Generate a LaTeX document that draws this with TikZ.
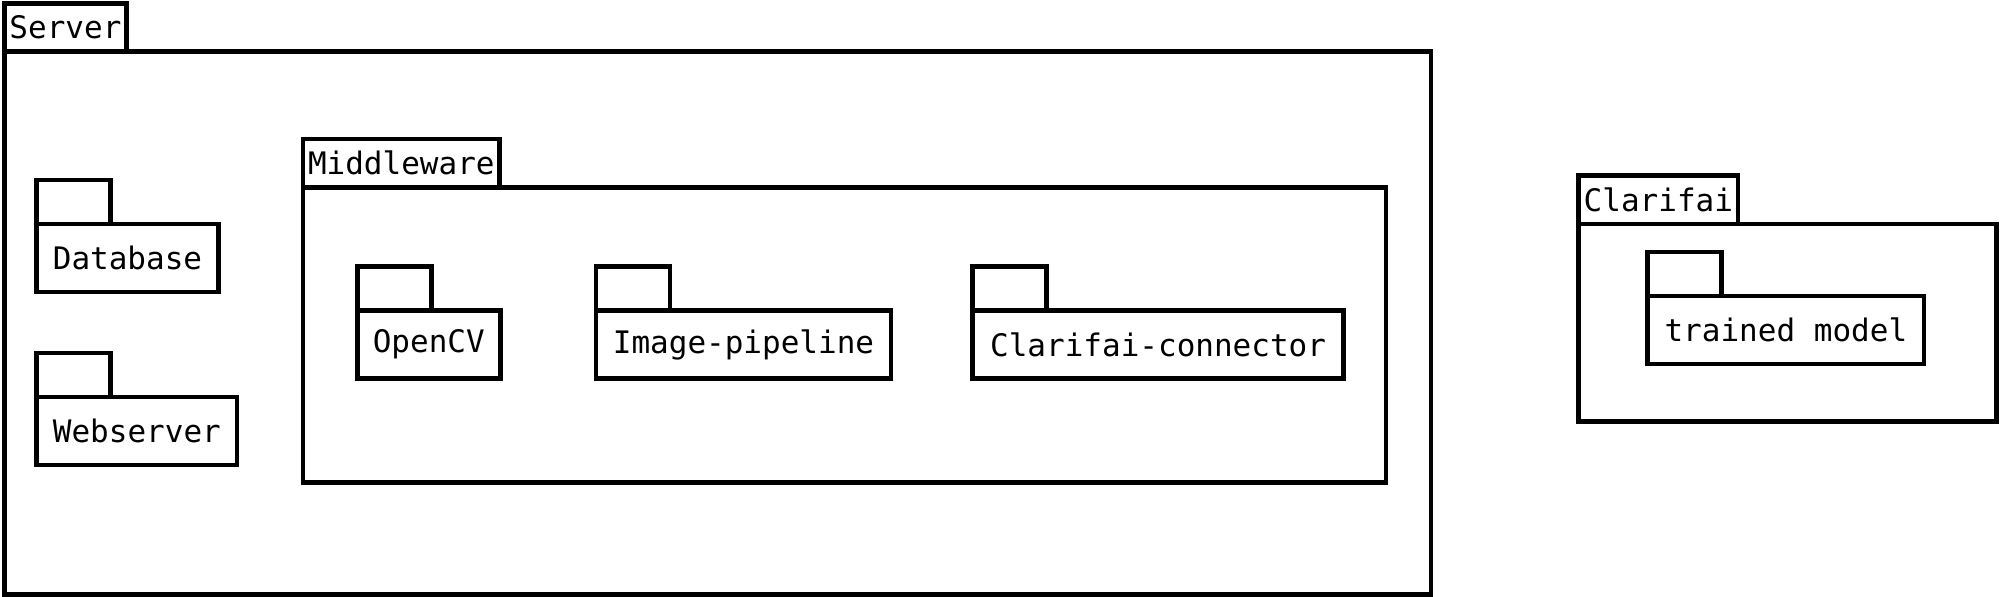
\documentclass[tikz,border=0pt]{standalone}
\usepackage{fontspec}
\setmonofont{DejaVu Sans Mono}

\begin{document}
\begin{tikzpicture}[
        x=0.5pt, y=-0.5pt,
        every node/.style={draw, line width=2.25pt, outer sep=0pt, inner sep=0pt,
            font=\ttfamily\fontsize{15.5}{18}\selectfont},
        pkg/.style={anchor=north west, minimum height=34pt, minimum width=#1},
        pkgtab/.style={anchor=south west, minimum width=37pt, minimum height=22pt},
        bigpkg/.style={anchor=north west},
        bigtab/.style={anchor=south west, inner xsep=2.5pt, minimum height=24.2pt},
    ]
    \useasboundingbox (0,0) rectangle (2001,597);

    % Server
    \node[bigpkg, minimum width=713.25pt, minimum height=271.4pt] (server) at (4.5,51.7) {};
    \node[bigtab] (servertab) at (server.north west) {Server};

    \node[pkg=90.8pt] (db) at (36.7,224) {Database};
    \node[pkgtab] (dbtab) at (db.north west) {};
    \node[pkg=100.2pt] (web) at (36.7,397) {Webserver};
    \node[pkgtab] (webtab) at (web.north west) {};

    % Middleware
    \node[bigpkg, minimum width=541.5pt, minimum height=147.5pt] (mw) at (303,187.5) {};
    \node[bigtab] (mwtab) at (mw.north west) {Middleware};

    \node[pkg=71.5pt] (opencv) at (357.3,310.5) {OpenCV};
    \node[pkgtab] (opencvtab) at (opencv.north west) {};
    \node[pkg=147.5pt] (pipe) at (596,310.5) {Image-pipeline};
    \node[pkgtab] (pipetab) at (pipe.north west) {};
    \node[pkg=185.6pt] (conn) at (972.5,310.5) {Clarifai-connector};
    \node[pkgtab] (conntab) at (conn.north west) {};

    % Clarifai
    \node[bigpkg, minimum width=208.9pt, minimum height=98.85pt] (clarifai) at (1578.7,223.8) {};
    \node[bigtab] (clarifaitab) at (clarifai.north west) {Clarifai};

    \node[pkg=138.15pt] (model) at (1647.7,296) {trained model};
    \node[pkgtab] (modeltab) at (model.north west) {};
\end{tikzpicture}
\end{document}
